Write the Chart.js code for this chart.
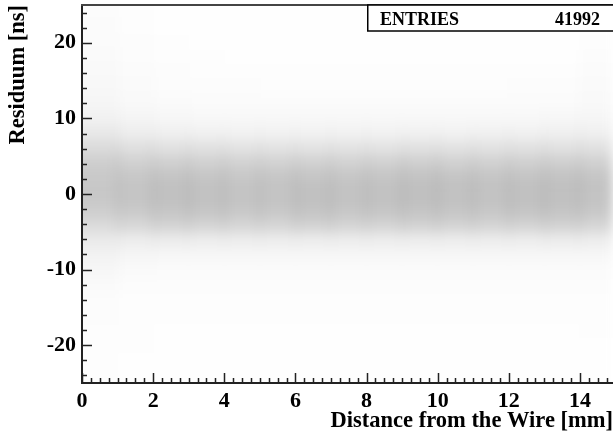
<!DOCTYPE html>
<html>
<head>
<meta charset="utf-8">
<script src="https://cdn.jsdelivr.net/npm/chart.js@4/dist/chart.umd.min.js"></script>
<style>
  html, body { margin: 0; padding: 0; background: #fff; }
  canvas { display: block; }
</style>
</head>
<body>
<canvas id="residuumChart" width="613" height="435"></canvas>
<script>
// axis ranges and ticks
const xMin = 0, xMax = 14.93;
const yMin = -25, yMax = 25;
const xMajorTicks = [0, 2, 4, 6, 8, 10, 12, 14];
const yMajorTicks = [-20, -10, 0, 10, 20];
const entries = 41992;

// density: counts per cell, 1 mm wide, 2 ns high
const xCenters = [0.5, 1.5, 2.5, 3.5, 4.5, 5.5, 6.5, 7.5, 8.5, 9.5, 10.5, 11.5, 12.5, 13.5, 14.5];
const yCenters = [24, 22, 20, 18, 16, 14, 12, 10, 8, 6, 4, 2, 0, -2, -4, -6, -8, -10, -12, -14, -16, -18, -20, -22, -24];
const yBinHalf = 1;

// one array per x column, rows go from y=+24 down to y=-24
const col_0_1   = [10,12,14,17,21,27,38,64,125,240,370,440,450,380,250,112,55,30,16,10,8,6,5,5,5];
const col_1_2   = [6,7,8,10,12,16,24,42,90,200,350,470,500,430,280,100,36,16,10,7,6,5,5,4,4];
const col_2_3   = [4,4,5,6,8,11,17,32,75,185,360,510,560,500,320,105,33,14,9,6,5,4,4,4,4];
const col_3_4   = [4,4,4,5,7,9,14,28,70,180,350,500,550,490,310,100,32,14,8,6,5,4,4,4,4];
const col_4_5   = [3,3,4,4,6,8,13,26,65,170,330,470,510,460,300,95,30,13,8,6,5,4,4,4,4];
const col_5_6   = [3,3,3,4,5,7,12,25,65,170,335,480,520,470,300,95,30,13,8,6,5,4,4,4,4];
const col_6_7   = [3,3,3,4,5,7,12,25,62,165,340,500,560,510,330,100,30,13,8,6,5,4,4,4,4];
const col_7_8   = [3,3,3,4,5,7,12,25,62,165,335,485,530,480,310,95,30,13,8,6,5,4,4,4,4];
const col_8_9   = [3,3,3,4,5,7,12,26,65,170,345,500,550,490,315,98,30,13,8,6,5,4,4,4,4];
const col_9_10  = [3,3,3,4,5,7,12,26,68,180,365,530,580,520,330,100,31,13,8,6,5,4,4,4,4];
const col_10_11 = [3,3,3,4,5,7,12,26,66,172,350,505,550,495,318,98,30,13,8,6,5,4,4,4,4];
const col_11_12 = [3,3,3,4,5,7,13,27,68,172,345,495,535,480,310,96,30,13,8,6,5,4,4,4,4];
const col_12_13 = [3,3,3,4,5,8,14,28,72,180,360,520,565,505,325,100,31,13,8,6,5,4,4,4,4];
const col_13_14 = [3,3,3,4,6,8,15,30,75,185,365,525,570,510,330,102,32,14,8,6,5,4,4,4,4];
const col_14_15 = [4,4,5,8,12,16,22,36,78,185,350,490,520,470,300,95,32,15,9,7,5,5,4,4,4];

const columns = [col_0_1, col_1_2, col_2_3, col_3_4, col_4_5, col_5_6, col_6_7, col_7_8,
                 col_8_9, col_9_10, col_10_11, col_11_12, col_12_13, col_13_14, col_14_15];

const serif = "'Liberation Serif', 'DejaVu Serif', serif";

// how dark a cell of n points looks (sparse dots still show up a little)
function cellColor(n) {
    const a = 0.33 * (1 - Math.exp(-n / 500)) + 0.012 * (1 - Math.exp(-n / 15));
    return "rgba(0,0,0," + a.toFixed(4) + ")";
}

const datasets = columns.map((counts, ci) => ({
    type: "bar",
    data: counts.map((n, ri) => ({ x: xCenters[ci], y: [yCenters[ri] - yBinHalf, yCenters[ri] + yBinHalf] })),
    backgroundColor: counts.map(cellColor),
    borderWidth: 0,
    inflateAmount: 0.5,
    barPercentage: 1,
    categoryPercentage: 1,
    grouped: false
}));

// white page
const whiteBg = {
    id: "whiteBg",
    beforeDraw(chart) {
        const ctx = chart.ctx;
        ctx.save();
        ctx.fillStyle = "#fff";
        ctx.fillRect(0, 0, chart.width, chart.height);
        ctx.restore();
    }
};

// soften the cell grid so it reads like a dense cloud of dots
const softenCells = {
    id: "softenCells",
    afterDatasetsDraw(chart) {
        const { ctx, chartArea: a, canvas } = chart;
        const w = a.right - a.left, h = a.bottom - a.top;
        const off = document.createElement("canvas");
        off.width = canvas.width;
        off.height = canvas.height;
        const oc = off.getContext("2d");
        oc.drawImage(canvas, 0, 0);
        // stretch the edge pixels outwards so the blur does not fade at the frame
        oc.drawImage(canvas, a.left + 1, a.top, 1, h, a.left - 24, a.top, 25, h);
        oc.drawImage(canvas, a.right - 2, a.top, 1, h, a.right - 1, a.top, 25, h);
        oc.drawImage(canvas, a.left, a.bottom - 2, w, 1, a.left, a.bottom - 1, w, 25);
        oc.drawImage(canvas, a.left, a.top + 1, w, 1, a.left, a.top - 24, w, 25);
        ctx.save();
        ctx.beginPath();
        ctx.rect(a.left, a.top, w, h);
        ctx.clip();
        ctx.fillStyle = "#fff";
        ctx.fillRect(a.left, a.top, w, h);
        ctx.filter = "blur(6px)";
        ctx.drawImage(off, 0, 0, canvas.width, canvas.height, 0, 0, chart.width, chart.height);
        ctx.restore();
    }
};

// ROOT style inward ticks, top frame line and the stats box
const frameAndStats = {
    id: "frameAndStats",
    afterDraw(chart) {
        const { ctx, chartArea: a } = chart;
        const sx = chart.scales.x, sy = chart.scales.y;
        ctx.save();
        ctx.strokeStyle = "#222";
        ctx.lineWidth = 1.5;
        ctx.beginPath();
        for (let v = 0; v <= xMax + 1e-6; v += 0.25) {
            const px = Math.round(sx.getPixelForValue(v)) + 0.5;
            const major = Math.abs(v / 2 - Math.round(v / 2)) < 1e-6;
            ctx.moveTo(px, a.bottom);
            ctx.lineTo(px, a.bottom - (major ? 10 : 5));
        }
        for (let v = -24; v <= 24; v += 2) {
            const py = Math.round(sy.getPixelForValue(v)) + 0.5;
            const major = v % 10 === 0;
            ctx.moveTo(a.left, py);
            ctx.lineTo(a.left + (major ? 10 : 5), py);
        }
        ctx.stroke();

        // top frame
        ctx.strokeStyle = "#444";
        ctx.lineWidth = 2;
        ctx.beginPath();
        ctx.moveTo(a.left - 1, a.top);
        ctx.lineTo(a.right, a.top);
        ctx.stroke();

        // stats box
        const bx = a.right - 246, by = a.top, bw = 246, bh = 26;
        ctx.fillStyle = "#fff";
        ctx.fillRect(bx, by, bw, bh);
        ctx.strokeStyle = "#000";
        ctx.lineWidth = 1.5;
        ctx.strokeRect(bx + 0.75, by, bw, bh);
        ctx.fillStyle = "#000";
        ctx.font = "bold 18px " + serif;
        ctx.textBaseline = "alphabetic";
        ctx.textAlign = "left";
        ctx.fillText("ENTRIES", bx + 13, by + 20);
        ctx.textAlign = "right";
        ctx.fillText(String(entries), bx + 233, by + 20);
        ctx.restore();
    }
};

const ctx = document.getElementById("residuumChart");
new Chart(ctx, {
    type: "bar",
    data: { datasets: datasets },
    plugins: [whiteBg, softenCells, frameAndStats],
    options: {
        responsive: false,
        animation: false,
        events: [],
        layout: { padding: { top: 5, right: 0, left: 0, bottom: 0 } },
        plugins: { legend: { display: false }, tooltip: { enabled: false } },
        scales: {
            x: {
                type: "linear",
                min: xMin,
                max: xMax,
                offset: false,
                afterFit(s) { s.height = 52; s.paddingLeft = 0; s.paddingRight = 0; },
                afterBuildTicks(s) { s.ticks = xMajorTicks.map(v => ({ value: v })); },
                grid: { display: false, drawTicks: false },
                border: { display: true, color: "#222", width: 2, z: 1 },
                ticks: {
                    padding: 5,
                    color: "#000",
                    maxRotation: 0,
                    autoSkip: false,
                    font: { family: serif, size: 22, weight: "bold" }
                },
                title: {
                    display: true,
                    text: "Distance from the Wire [mm]",
                    align: "end",
                    color: "#000",
                    padding: { top: 0, bottom: 0 },
                    font: { family: serif, size: 22.5, weight: "bold" }
                }
            },
            y: {
                type: "linear",
                min: yMin,
                max: yMax,
                afterFit(s) { s.width = 82; s.paddingTop = 0; s.paddingBottom = 0; },
                afterBuildTicks(s) { s.ticks = yMajorTicks.map(v => ({ value: v })); },
                grid: { display: false, drawTicks: false },
                border: { display: true, color: "#222", width: 2, z: 1 },
                ticks: {
                    padding: 6,
                    color: "#000",
                    autoSkip: false,
                    font: { family: serif, size: 22, weight: "bold" }
                },
                title: {
                    display: true,
                    text: "Residuum [ns]",
                    align: "end",
                    color: "#000",
                    padding: { top: 5, bottom: 0 },
                    font: { family: serif, size: 22.5, weight: "bold" }
                }
            }
        }
    }
});
</script>
</body>
</html>
